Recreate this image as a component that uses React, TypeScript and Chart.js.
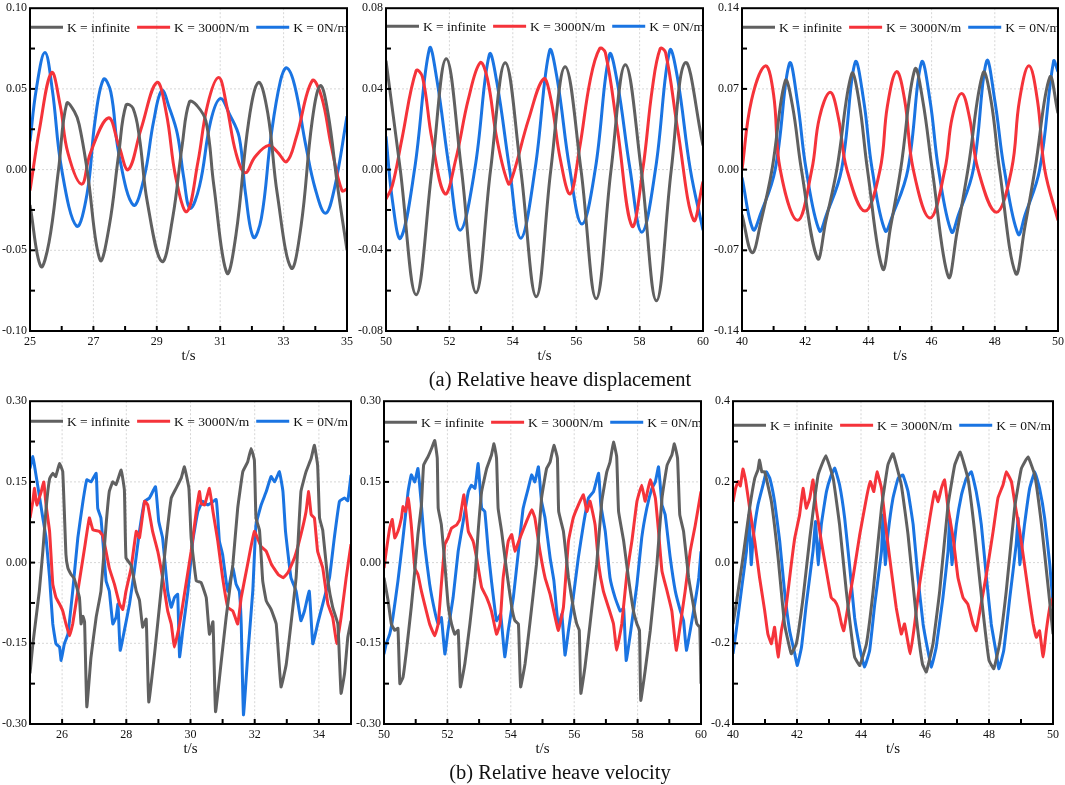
import React, { useEffect, useRef } from 'react';
import Chart from 'chart.js/auto';

// ---------- data: [t (s), value] ----------

const seriesNames = ['K = infinite', 'K = 3000N/m', 'K = 0N/m'];
const seriesColors = ['#606060', '#f5333a', '#1a74e2'];

// (a) relative heave displacement, t = 25..35
const dispA_inf = [[25,-0.022],[25.34,-0.060],[25.6,-0.045],[25.9,0.0],[26.16,0.041],[26.4,0.036],[26.55,0.028],[26.8,0.0],[27.21,-0.056],[27.5,-0.035],[27.8,0.010],[28.03,0.040],[28.25,0.038],[28.45,0.020],[28.7,-0.020],[29.16,-0.057],[29.5,-0.030],[29.8,0.015],[30.03,0.042],[30.25,0.040],[30.55,0.030],[30.8,-0.010],[31.21,-0.064],[31.5,-0.040],[31.9,0.030],[32.21,0.054],[32.5,0.035],[32.8,-0.015],[33.24,-0.061],[33.55,-0.035],[33.9,0.030],[34.16,0.052],[34.4,0.035],[34.7,-0.010],[35,-0.050]];
const dispA_3000 = [[25,-0.013],[25.3,0.025],[25.68,0.060],[25.95,0.040],[26.2,0.010],[26.63,-0.009],[26.9,0.010],[27.47,0.032],[27.8,0.015],[28.1,0.0],[28.5,0.025],[29.0,0.054],[29.3,0.035],[29.6,-0.005],[29.95,-0.026],[30.3,0.005],[30.6,0.040],[30.95,0.057],[31.2,0.040],[31.5,0.010],[31.79,-0.002],[32.1,0.008],[32.53,0.015],[32.8,0.011],[33.1,0.005],[33.4,0.020],[33.9,0.055],[34.2,0.045],[34.5,0.015],[34.84,-0.013],[35,-0.012]];
const dispA_0 = [[25,0.0175],[25.2,0.05],[25.47,0.0725],[25.7,0.050],[26.0,0.0],[26.47,-0.035],[26.8,-0.015],[27.05,0.030],[27.32,0.056],[27.55,0.048],[27.8,0.010],[28.26,-0.022],[28.6,-0.005],[28.9,0.030],[29.16,0.049],[29.4,0.038],[29.65,0.022],[29.85,-0.005],[30.05,-0.024],[30.35,-0.010],[30.7,0.030],[31.0,0.044],[31.3,0.034],[31.6,0.020],[31.8,-0.015],[32.05,-0.042],[32.3,-0.030],[32.6,0.020],[32.9,0.055],[33.1,0.063],[33.35,0.052],[33.7,0.015],[34.0,-0.012],[34.32,-0.027],[34.6,-0.012],[35,0.033]];

// t = 50..60
const dispB_inf = [[50,0.054],[50.45,0.0],[50.95,-0.062],[51.45,0.0],[51.9,0.055],[52.38,0.0],[52.84,-0.061],[53.3,0.0],[53.76,0.053],[54.25,0.0],[54.74,-0.063],[55.2,0.0],[55.65,0.051],[56.15,0.0],[56.63,-0.064],[57.1,0.0],[57.55,0.052],[58.05,0.0],[58.53,-0.065],[59.0,0.0],[59.44,0.053],[60,0.012]];
const dispB_3000 = [[50,-0.0146],[50.2,-0.008],[50.5,0.015],[50.95,0.049],[51.15,0.046],[51.45,0.015],[51.86,-0.012],[52.2,0.005],[52.6,0.035],[52.97,0.053],[53.2,0.045],[53.5,0.015],[53.86,-0.007],[54.0,-0.003],[54.5,0.025],[54.97,0.045],[55.2,0.035],[55.5,0.005],[55.81,-0.012],[56.1,0.010],[56.45,0.045],[56.74,0.060],[56.92,0.058],[57.3,0.020],[57.76,-0.028],[58.1,0.000],[58.4,0.040],[58.65,0.060],[58.82,0.058],[59.2,0.020],[59.7,-0.025],[60,-0.006]];
const dispB_0 = [[50,0.0165],[50.2,-0.015],[50.46,-0.034],[50.9,0.0],[51.37,0.060],[51.6,0.045],[52.0,0.0],[52.34,-0.030],[52.8,0.0],[53.26,0.057],[53.5,0.043],[53.9,0.0],[54.25,-0.034],[54.7,0.0],[55.16,0.059],[55.4,0.045],[55.8,0.0],[56.18,-0.027],[56.6,0.0],[57.05,0.057],[57.3,0.043],[57.7,0.0],[58.07,-0.031],[58.5,0.0],[58.95,0.059],[59.2,0.045],[59.6,0.0],[60,-0.030]];

// t = 40..50
const dispC_inf = [[40,-0.039],[40.32,-0.072],[40.6,-0.045],[40.95,0.0],[41.37,0.077],[41.6,0.055],[41.88,0.0],[42.39,-0.077],[42.65,-0.045],[43.0,0.0],[43.47,0.083],[43.7,0.06],[43.97,0.0],[44.45,-0.086],[44.7,-0.05],[45.02,0.0],[45.47,0.087],[45.72,0.06],[46.02,0.0],[46.53,-0.093],[46.8,-0.055],[47.15,0.0],[47.63,0.084],[47.88,0.06],[48.15,0.0],[48.66,-0.090],[48.95,-0.05],[49.27,0.0],[49.74,0.080],[50,0.049]];
const dispC_3000 = [[40,0.0],[40.3,0.06],[40.74,0.090],[41.0,0.065],[41.21,0.0],[41.76,-0.044],[42.21,0.0],[42.45,0.045],[42.79,0.067],[43.05,0.045],[43.32,0.0],[43.89,-0.036],[44.37,0.0],[44.6,0.055],[44.89,0.085],[45.15,0.06],[45.42,0.0],[45.95,-0.042],[46.42,0.0],[46.65,0.045],[46.95,0.066],[47.2,0.045],[47.47,0.0],[48.05,-0.037],[48.53,0.0],[48.78,0.06],[49.08,0.090],[49.35,0.06],[49.58,0.0],[50,-0.044]];
const dispC_0 = [[40,-0.007],[40.35,-0.052],[40.58,-0.039],[41.05,0.0],[41.5,0.092],[41.75,0.06],[42.03,0.0],[42.45,-0.053],[42.66,-0.040],[43.15,0.0],[43.58,0.093],[43.85,0.06],[44.12,0.0],[44.53,-0.053],[44.76,-0.040],[45.25,0.0],[45.68,0.093],[45.95,0.06],[46.22,0.0],[46.63,-0.054],[46.84,-0.040],[47.32,0.0],[47.74,0.094],[48.0,0.06],[48.3,0.0],[48.74,-0.056],[48.95,-0.040],[49.42,0.0],[49.86,0.094],[50,0.085]];

// (b) relative heave velocity, t = 25..35
const velA_inf = [[25.0,-0.206],[25.09,-0.151],[25.19,-0.102],[25.29,-0.053],[25.40,0.021],[25.5,0.10],[25.61,0.156],[25.71,0.166],[25.8,0.160],[25.92,0.184],[26.02,0.169],[26.12,0.015],[26.18,-0.010],[26.28,-0.022],[26.38,-0.030],[26.54,-0.065],[26.59,-0.114],[26.65,-0.100],[26.70,-0.110],[26.77,-0.268],[26.90,-0.176],[27.06,-0.102],[27.21,-0.053],[27.37,0.070],[27.47,0.132],[27.58,0.150],[27.68,0.145],[27.84,0.172],[27.94,0.135],[27.99,0.009],[28.15,-0.005],[28.31,-0.053],[28.41,-0.070],[28.51,-0.120],[28.62,-0.105],[28.70,-0.259],[28.88,-0.170],[29.03,-0.083],[29.24,0.040],[29.40,0.120],[29.55,0.138],[29.71,0.157],[29.81,0.178],[29.95,0.138],[30.02,0.046],[30.18,-0.034],[30.33,-0.037],[30.49,-0.065],[30.59,-0.133],[30.70,-0.110],[30.78,-0.277],[30.95,-0.188],[31.11,-0.102],[31.32,-0.003],[31.47,0.101],[31.63,0.169],[31.78,0.187],[31.89,0.212],[31.99,0.190],[32.04,0.083],[32.15,0.060],[32.25,-0.034],[32.36,-0.071],[32.51,-0.087],[32.67,-0.114],[32.82,-0.231],[32.98,-0.190],[33.13,-0.114],[33.29,-0.028],[33.44,0.132],[33.60,0.169],[33.76,0.194],[33.86,0.218],[33.96,0.181],[34.02,0.083],[34.12,0.060],[34.28,-0.034],[34.43,-0.083],[34.59,-0.114],[34.69,-0.243],[34.80,-0.206],[34.90,-0.139],[35.0,-0.108]];
const velA_3000 = [[25.0,0.083],[25.09,0.114],[25.14,0.138],[25.21,0.107],[25.35,0.132],[25.43,0.150],[25.50,0.107],[25.61,0.058],[25.71,-0.040],[25.81,-0.065],[25.92,-0.077],[26.02,-0.090],[26.12,-0.114],[26.23,-0.136],[26.33,-0.114],[26.49,-0.053],[26.70,0.027],[26.85,0.083],[26.96,0.061],[27.16,0.058],[27.27,0.050],[27.47,-0.010],[27.63,-0.040],[27.79,-0.077],[27.89,-0.087],[27.99,-0.053],[28.15,-0.010],[28.31,0.058],[28.41,0.046],[28.57,0.114],[28.67,0.107],[28.82,0.058],[28.98,0.021],[29.13,-0.028],[29.29,-0.090],[29.40,-0.114],[29.50,-0.157],[29.66,-0.114],[29.81,-0.059],[30.02,0.021],[30.18,0.095],[30.28,0.132],[30.33,0.110],[30.44,0.107],[30.59,0.138],[30.70,0.095],[30.85,0.040],[31.00,-0.028],[31.16,-0.083],[31.32,-0.090],[31.47,-0.114],[31.58,-0.065],[31.78,-0.003],[31.99,0.058],[32.20,0.030],[32.36,0.021],[32.52,-0.003],[32.73,-0.022],[32.89,-0.028],[33.04,-0.018],[33.24,0.009],[33.44,0.052],[33.60,0.095],[33.68,0.132],[33.76,0.089],[33.86,0.083],[33.96,0.021],[34.12,-0.010],[34.28,-0.077],[34.43,-0.102],[34.56,-0.151],[34.69,-0.102],[34.85,-0.028],[35.0,0.034]];
const velA_0 = [[25.0,0.175],[25.09,0.197],[25.17,0.169],[25.27,0.132],[25.40,0.083],[25.50,0.046],[25.61,-0.028],[25.71,-0.114],[25.81,-0.151],[25.92,-0.157],[25.97,-0.182],[26.07,-0.151],[26.18,-0.133],[26.33,-0.053],[26.49,0.046],[26.65,0.114],[26.77,0.154],[26.90,0.150],[27.06,0.166],[27.11,0.101],[27.21,0.083],[27.37,-0.034],[27.47,-0.053],[27.58,-0.114],[27.68,-0.102],[27.74,-0.077],[27.81,-0.163],[27.94,-0.126],[28.10,-0.077],[28.25,-0.016],[28.41,0.058],[28.57,0.114],[28.72,0.120],[28.91,0.141],[29.01,0.077],[29.13,0.046],[29.29,-0.053],[29.40,-0.083],[29.50,-0.065],[29.60,-0.059],[29.66,-0.175],[29.76,-0.126],[29.92,-0.053],[30.07,0.040],[30.23,0.095],[30.38,0.114],[30.54,0.107],[30.80,0.117],[30.90,0.040],[31.00,0.015],[31.16,-0.053],[31.32,-0.010],[31.42,-0.040],[31.52,-0.053],[31.58,-0.114],[31.65,-0.283],[31.78,-0.175],[31.94,-0.053],[32.04,0.070],[32.20,0.107],[32.36,0.132],[32.51,0.160],[32.62,0.150],[32.77,0.169],[32.88,0.132],[32.96,0.058],[33.13,-0.028],[33.29,-0.053],[33.44,-0.108],[33.55,-0.090],[33.70,-0.053],[33.81,-0.151],[33.96,-0.114],[34.12,-0.077],[34.33,-0.028],[34.48,0.046],[34.64,0.114],[34.80,0.120],[34.90,0.115],[35.0,0.163]];

// t = 50..60
const velB_inf = [[50.0,-0.028],[50.13,-0.071],[50.23,-0.114],[50.34,-0.126],[50.44,-0.122],[50.50,-0.225],[50.60,-0.213],[50.71,-0.163],[50.86,-0.083],[50.97,-0.016],[51.07,0.052],[51.18,0.107],[51.25,0.181],[51.39,0.197],[51.50,0.212],[51.60,0.227],[51.68,0.194],[51.71,0.101],[51.81,0.070],[51.92,-0.003],[52.02,-0.077],[52.13,-0.114],[52.23,-0.133],[52.34,-0.126],[52.41,-0.231],[52.55,-0.188],[52.71,-0.114],[52.87,-0.028],[52.97,0.058],[53.08,0.132],[53.24,0.175],[53.39,0.200],[53.47,0.221],[53.55,0.194],[53.60,0.101],[53.71,0.058],[53.87,-0.016],[54.03,-0.083],[54.13,-0.108],[54.24,-0.114],[54.31,-0.231],[54.45,-0.188],[54.60,-0.114],[54.81,-0.003],[54.97,0.120],[55.13,0.175],[55.24,0.187],[55.36,0.218],[55.47,0.194],[55.51,0.095],[55.66,0.058],[55.82,-0.028],[55.97,-0.083],[56.08,-0.114],[56.16,-0.126],[56.21,-0.243],[56.34,-0.194],[56.50,-0.114],[56.71,-0.003],[56.87,0.114],[57.03,0.169],[57.13,0.187],[57.24,0.224],[57.34,0.197],[57.40,0.095],[57.56,0.040],[57.71,-0.028],[57.87,-0.090],[57.98,-0.114],[58.06,-0.126],[58.10,-0.256],[58.24,-0.200],[58.40,-0.126],[58.61,-0.003],[58.77,0.120],[58.93,0.181],[59.08,0.200],[59.16,0.221],[59.26,0.194],[59.33,0.089],[59.45,0.058],[59.61,-0.028],[59.77,-0.083],[59.87,-0.114],[59.96,-0.120],[60.0,-0.225]];
const velB_3000 = [[50.0,-0.010],[50.07,0.021],[50.18,0.064],[50.26,0.080],[50.34,0.046],[50.44,0.058],[50.55,0.083],[50.60,0.104],[50.68,0.095],[50.76,0.120],[50.86,0.070],[50.97,-0.010],[51.07,-0.022],[51.18,-0.053],[51.28,-0.077],[51.44,-0.114],[51.60,-0.136],[51.71,-0.114],[51.81,-0.040],[51.92,0.034],[52.02,0.046],[52.13,0.064],[52.29,0.070],[52.39,0.080],[52.52,0.126],[52.66,0.058],[52.81,0.040],[52.92,0.009],[53.08,-0.046],[53.24,-0.065],[53.39,-0.090],[53.55,-0.133],[53.66,-0.114],[53.76,-0.028],[53.92,0.040],[54.03,0.052],[54.13,0.021],[54.29,0.046],[54.50,0.077],[54.66,0.098],[54.76,0.083],[54.92,0.021],[55.08,-0.028],[55.24,-0.059],[55.40,-0.102],[55.50,-0.126],[55.66,-0.083],[55.82,0.040],[55.97,0.083],[56.13,0.107],[56.29,0.126],[56.40,0.095],[56.50,0.114],[56.66,0.070],[56.77,-0.003],[56.92,-0.053],[57.08,-0.083],[57.24,-0.114],[57.34,-0.163],[57.50,-0.114],[57.66,-0.022],[57.82,0.040],[57.98,0.114],[58.13,0.144],[58.24,0.114],[58.40,0.154],[58.56,0.120],[58.66,0.058],[58.77,-0.016],[58.93,-0.053],[59.08,-0.090],[59.22,-0.163],[59.35,-0.114],[59.50,-0.053],[59.66,0.021],[59.82,0.070],[60.0,0.132]];
const velB_0 = [[50.0,-0.170],[50.07,-0.151],[50.18,-0.133],[50.28,-0.102],[50.44,-0.034],[50.60,0.046],[50.76,0.132],[50.86,0.163],[50.97,0.150],[51.07,0.175],[51.18,0.107],[51.28,0.034],[51.44,-0.040],[51.60,-0.090],[51.71,-0.114],[51.81,-0.102],[51.92,-0.170],[52.02,-0.126],[52.18,-0.065],[52.34,0.021],[52.50,0.077],[52.66,0.132],[52.76,0.144],[52.87,0.138],[52.97,0.184],[53.08,0.101],[53.18,0.095],[53.29,0.021],[53.39,-0.034],[53.55,-0.108],[53.68,-0.096],[53.81,-0.175],[53.92,-0.126],[54.08,-0.065],[54.24,0.021],[54.39,0.101],[54.55,0.138],[54.66,0.163],[54.76,0.150],[54.87,0.178],[54.97,0.114],[55.08,0.083],[55.24,0.009],[55.36,-0.034],[55.50,-0.120],[55.61,-0.096],[55.71,-0.172],[55.82,-0.126],[55.97,-0.065],[56.13,0.009],[56.29,0.070],[56.45,0.120],[56.61,0.132],[56.77,0.166],[56.84,0.107],[56.98,0.058],[57.13,-0.028],[57.29,-0.065],[57.45,-0.090],[57.56,-0.085],[57.64,-0.182],[57.77,-0.133],[57.98,-0.040],[58.13,0.046],[58.29,0.101],[58.45,0.138],[58.56,0.150],[58.66,0.178],[58.77,0.107],[58.87,0.089],[59.03,0.009],[59.19,-0.053],[59.35,-0.090],[59.45,-0.108],[59.54,-0.163],[59.66,-0.126],[59.82,-0.071],[59.93,-0.028],[60.0,0.021]];

// t = 40..50
const velC_inf = [[40.0,-0.152],[40.10,-0.103],[40.31,0.012],[40.52,0.135],[40.68,0.209],[40.78,0.230],[40.83,0.254],[40.90,0.225],[40.99,0.225],[41.20,0.151],[41.41,0.012],[41.61,-0.152],[41.82,-0.226],[41.98,-0.201],[42.19,-0.087],[42.40,0.061],[42.66,0.217],[42.90,0.265],[43.13,0.209],[43.33,0.094],[43.54,-0.070],[43.80,-0.234],[43.96,-0.255],[44.17,-0.201],[44.38,-0.070],[44.64,0.135],[44.84,0.242],[45.0,0.270],[45.26,0.192],[45.47,0.069],[45.73,-0.136],[45.92,-0.251],[46.04,-0.271],[46.25,-0.201],[46.46,-0.070],[46.72,0.143],[46.93,0.242],[47.10,0.274],[47.34,0.209],[47.55,0.078],[47.81,-0.119],[48.0,-0.242],[48.15,-0.263],[48.33,-0.201],[48.54,-0.070],[48.80,0.135],[49.01,0.233],[49.22,0.262],[49.43,0.217],[49.64,0.094],[49.84,-0.054],[50.0,-0.177]];
const velC_3000 = [[40.0,0.151],[40.08,0.184],[40.16,0.201],[40.23,0.190],[40.31,0.232],[40.40,0.201],[40.52,0.135],[40.68,0.053],[40.83,-0.037],[40.99,-0.119],[41.09,-0.177],[41.20,-0.201],[41.30,-0.160],[41.41,-0.234],[41.51,-0.170],[41.67,-0.103],[41.82,-0.005],[41.93,0.061],[42.08,0.118],[42.19,0.184],[42.29,0.135],[42.40,0.160],[42.50,0.205],[42.60,0.135],[42.76,0.053],[42.92,-0.021],[43.07,-0.087],[43.18,-0.095],[43.28,-0.111],[43.39,-0.152],[43.46,-0.169],[43.59,-0.110],[43.75,-0.037],[43.96,0.069],[44.17,0.160],[44.29,0.201],[44.40,0.176],[44.50,0.225],[44.64,0.184],[44.79,0.078],[44.95,-0.021],[45.10,-0.111],[45.26,-0.177],[45.36,-0.152],[45.54,-0.226],[45.68,-0.150],[45.83,-0.054],[45.99,0.028],[46.15,0.110],[46.30,0.176],[46.41,0.151],[46.51,0.184],[46.61,0.205],[46.72,0.135],[46.88,0.061],[47.03,-0.037],[47.19,-0.087],[47.34,-0.103],[47.50,-0.152],[47.60,-0.169],[47.76,-0.100],[47.92,-0.029],[48.13,0.078],[48.28,0.160],[48.44,0.193],[48.54,0.225],[48.70,0.201],[48.80,0.151],[48.96,0.078],[49.11,-0.005],[49.27,-0.095],[49.38,-0.152],[49.48,-0.185],[49.58,-0.169],[49.69,-0.234],[49.79,-0.169],[49.90,-0.111],[50.0,-0.087]];
const velC_0 = [[40.0,-0.226],[40.10,-0.169],[40.26,-0.070],[40.42,0.028],[40.50,0.118],[40.57,-0.005],[40.63,0.061],[40.78,0.143],[40.94,0.193],[41.04,0.225],[41.15,0.209],[41.30,0.151],[41.46,0.053],[41.61,-0.070],[41.77,-0.169],[41.93,-0.226],[42.01,-0.255],[42.14,-0.210],[42.29,-0.103],[42.50,0.028],[42.58,0.102],[42.66,-0.005],[42.76,0.094],[42.92,0.176],[43.07,0.217],[43.18,0.234],[43.33,0.193],[43.49,0.110],[43.65,-0.013],[43.80,-0.136],[43.96,-0.210],[44.11,-0.259],[44.27,-0.218],[44.43,-0.103],[44.64,0.028],[44.69,0.118],[44.76,-0.005],[44.84,0.069],[45.0,0.160],[45.16,0.209],[45.31,0.217],[45.47,0.176],[45.63,0.094],[45.78,-0.037],[45.94,-0.152],[46.09,-0.218],[46.20,-0.259],[46.35,-0.210],[46.56,-0.087],[46.72,0.028],[46.77,0.110],[46.84,-0.005],[46.98,0.094],[47.14,0.168],[47.29,0.209],[47.45,0.225],[47.60,0.176],[47.76,0.094],[47.92,-0.037],[48.07,-0.152],[48.23,-0.226],[48.31,-0.263],[48.46,-0.218],[48.65,-0.087],[48.85,0.045],[48.91,0.110],[48.96,-0.005],[49.11,0.094],[49.27,0.184],[49.43,0.225],[49.58,0.184],[49.74,0.110],[49.90,-0.005],[50.0,-0.103]];

// ---------- axis ticks ----------
const xTicks25odd = [25, 27, 29, 31, 33, 35];
const xMinor25even = [26, 28, 30, 32, 34];
const xTicks25even = [26, 28, 30, 32, 34];
const xMinor25odd = [27, 29, 31, 33];
const xTicks50 = [50, 52, 54, 56, 58, 60];
const xMinor50 = [51, 53, 55, 57, 59];
const xTicks40 = [40, 42, 44, 46, 48, 50];
const xMinor40 = [41, 43, 45, 47, 49];

const yTicksDispA = [-0.1, -0.05, 0, 0.05, 0.1];
const yMinorDispA = [-0.075, -0.025, 0.025, 0.075];
const yTicksDispB = [-0.08, -0.04, 0, 0.04, 0.08];
const yMinorDispB = [-0.06, -0.02, 0.02, 0.06];
const yTicksDispC = [-0.14, -0.07, 0, 0.07, 0.14];
const yMinorDispC = [-0.105, -0.035, 0.035, 0.105];
const yTicksVel = [-0.3, -0.15, 0, 0.15, 0.3];
const yMinorVel = [-0.225, -0.075, 0.075, 0.225];
const yTicksVelC = [-0.4, -0.2, 0, 0.2, 0.4];
const yMinorVelC = [-0.3, -0.1, 0.1, 0.3];

const SERIF = "'Liberation Serif', 'Times New Roman', serif";

const PAD_L = 36;
const PAD_T = 8;
const PAD_R = 10;
const PAD_B = 46;

type Pt = number[];

interface PanelCfg {
  left: number; top: number; right: number; bottom: number;
  xMin: number; xMax: number;
  xTicks: number[]; xMinor: number[];
  yTicks: number[]; yMinor: number[];
  dec: number;
  series: Pt[][];
  tension: number;
  legendY: number;
}

const panels: PanelCfg[] = [
  { left: 30, top: 6, right: 347, bottom: 331, xMin: 25, xMax: 35, xTicks: xTicks25odd, xMinor: xMinor25even, yTicks: yTicksDispA, yMinor: yMinorDispA, dec: 2, series: [dispA_inf, dispA_3000, dispA_0], tension: 0.4, legendY: 19 },
  { left: 386, top: 6, right: 703, bottom: 331, xMin: 50, xMax: 60, xTicks: xTicks50, xMinor: xMinor50, yTicks: yTicksDispB, yMinor: yMinorDispB, dec: 2, series: [dispB_inf, dispB_3000, dispB_0], tension: 0.4, legendY: 18 },
  { left: 742, top: 6, right: 1058, bottom: 331, xMin: 40, xMax: 50, xTicks: xTicks40, xMinor: xMinor40, yTicks: yTicksDispC, yMinor: yMinorDispC, dec: 2, series: [dispC_inf, dispC_3000, dispC_0], tension: 0.4, legendY: 19 },
  { left: 30, top: 399, right: 351, bottom: 724, xMin: 25, xMax: 35, xTicks: xTicks25even, xMinor: xMinor25odd, yTicks: yTicksVel, yMinor: yMinorVel, dec: 2, series: [velA_inf, velA_3000, velA_0], tension: 0.1, legendY: 20 },
  { left: 384, top: 399, right: 701, bottom: 724, xMin: 50, xMax: 60, xTicks: xTicks50, xMinor: xMinor50, yTicks: yTicksVel, yMinor: yMinorVel, dec: 2, series: [velB_inf, velB_3000, velB_0], tension: 0.1, legendY: 21 },
  { left: 733, top: 399, right: 1053, bottom: 724, xMin: 40, xMax: 50, xTicks: xTicks40, xMinor: xMinor40, yTicks: yTicksVelC, yMinor: yMinorVelC, dec: 1, series: [velC_inf, velC_3000, velC_0], tension: 0.1, legendY: 24 },
];

// grid lines, black frame, inward ticks and the in-plot legend
const framePlugin = {
  id: 'frame',
  beforeDatasetsDraw(chart: any, _args: any, opts: any) {
    const { ctx, chartArea: a, scales } = chart;
    ctx.save();
    ctx.strokeStyle = '#d6d6d6';
    ctx.lineWidth = 1;
    ctx.setLineDash([2, 2]);
    for (const v of opts.xTicks) {
      const px = scales.x.getPixelForValue(v);
      if (px <= a.left + 1 || px >= a.right - 1) continue;
      ctx.beginPath(); ctx.moveTo(px, a.top); ctx.lineTo(px, a.bottom); ctx.stroke();
    }
    for (const v of opts.yTicks) {
      const py = scales.y.getPixelForValue(v);
      if (py <= a.top + 1 || py >= a.bottom - 1) continue;
      ctx.beginPath(); ctx.moveTo(a.left, py); ctx.lineTo(a.right, py); ctx.stroke();
    }
    ctx.restore();
  },
  afterDatasetsDraw(chart: any, _args: any, opts: any) {
    const { ctx, chartArea: a, scales } = chart;
    ctx.save();
    // legend
    ctx.beginPath();
    ctx.rect(a.left, a.top, a.right - a.left, a.bottom - a.top);
    ctx.clip();
    ctx.font = `13.5px ${SERIF}`;
    ctx.textBaseline = 'middle';
    const ly = a.top + opts.legendY;
    let lx = a.left;
    chart.data.datasets.forEach((ds: any) => {
      ctx.strokeStyle = ds.borderColor;
      ctx.lineWidth = 3;
      ctx.beginPath(); ctx.moveTo(lx, ly); ctx.lineTo(lx + 33, ly); ctx.stroke();
      lx += 37;
      ctx.fillStyle = '#111';
      ctx.fillText(ds.label, lx, ly + 1);
      lx += ctx.measureText(ds.label).width + 7;
    });
    ctx.restore();

    ctx.save();
    ctx.strokeStyle = '#000';
    ctx.lineWidth = 2;
    ctx.strokeRect(a.left, a.top, a.right - a.left, a.bottom - a.top);
    const tick = (vals: number[], len: number) => {
      for (const v of vals) {
        const px = scales.x.getPixelForValue(v);
        if (px <= a.left + 1 || px >= a.right - 1) continue;
        ctx.beginPath(); ctx.moveTo(px, a.bottom); ctx.lineTo(px, a.bottom - len); ctx.stroke();
      }
    };
    const ytick = (vals: number[], len: number) => {
      for (const v of vals) {
        const py = scales.y.getPixelForValue(v);
        if (py <= a.top + 1 || py >= a.bottom - 1) continue;
        ctx.beginPath(); ctx.moveTo(a.left, py); ctx.lineTo(a.left + len, py); ctx.stroke();
      }
    };
    tick(opts.xTicks, 5);
    tick(opts.xMinor, 5);
    ytick(opts.yTicks, 5);
    ytick(opts.yMinor, 5);
    ctx.restore();
  },
};

function Panel({ cfg }: { cfg: PanelCfg }) {
  const canvasRef = useRef<HTMLCanvasElement | null>(null);
  const w = cfg.right - cfg.left + PAD_L + PAD_R;
  const h = cfg.bottom - cfg.top + PAD_T + PAD_B;

  useEffect(() => {
    if (!canvasRef.current) return;
    const chart = new Chart(canvasRef.current, {
      type: 'line',
      data: {
        datasets: cfg.series.map((pts, i) => ({
          label: seriesNames[i],
          data: pts.map(([x, y]) => ({ x, y })),
          borderColor: seriesColors[i],
          backgroundColor: seriesColors[i],
          borderWidth: 3,
          pointRadius: 0,
          tension: cfg.tension,
          fill: false,
        })),
      },
      options: {
        animation: false,
        responsive: false,
        events: [],
        layout: { padding: { left: 0, top: PAD_T, right: PAD_R, bottom: 0 } },
        plugins: {
          legend: { display: false },
          tooltip: { enabled: false },
          frame: {
            xTicks: cfg.xTicks, xMinor: cfg.xMinor,
            yTicks: cfg.yTicks, yMinor: cfg.yMinor,
            legendY: cfg.legendY,
          },
        } as any,
        scales: {
          x: {
            type: 'linear',
            min: cfg.xMin,
            max: cfg.xMax,
            grid: { display: false, drawTicks: false },
            border: { display: false },
            afterBuildTicks: (s: any) => { s.ticks = cfg.xTicks.map((v) => ({ value: v })); },
            afterFit: (s: any) => { s.height = PAD_B; },
            ticks: {
              padding: 4,
              maxRotation: 0,
              autoSkip: false,
              color: '#111',
              font: { family: SERIF, size: 12 },
              callback: (v: any) => String(v),
            },
            title: {
              display: true,
              text: 't/s',
              color: '#111',
              font: { family: SERIF, size: 15 },
              padding: { top: 0, bottom: 12 },
            },
          },
          y: {
            type: 'linear',
            min: cfg.yTicks[0],
            max: cfg.yTicks[cfg.yTicks.length - 1],
            grid: { display: false, drawTicks: false },
            border: { display: false },
            afterBuildTicks: (s: any) => { s.ticks = cfg.yTicks.map((v) => ({ value: v })); },
            afterFit: (s: any) => { s.width = PAD_L; },
            ticks: {
              padding: 3,
              autoSkip: false,
              color: '#111',
              font: { family: SERIF, size: 12 },
              callback: (v: any) => Number(v).toFixed(cfg.dec),
            },
          },
        },
      },
      plugins: [framePlugin],
    });
    return () => chart.destroy();
  }, [cfg]);

  return (
    <canvas
      ref={canvasRef}
      width={w}
      height={h}
      style={{ position: 'absolute', left: cfg.left - PAD_L, top: cfg.top - PAD_T, width: w, height: h }}
    />
  );
}

export default function App() {
  return (
    <div style={{ position: 'absolute', left: 0, top: 0, width: 1065, height: 785, background: '#fff', overflow: 'hidden' }}>
      {panels.map((p, i) => <Panel key={i} cfg={p} />)}
      <div style={{ position: 'absolute', left: 0, width: 1120, top: 367, textAlign: 'center', font: `20.5px ${SERIF}`, lineHeight: '24px', color: '#111' }}>
        (a) Relative heave displacement
      </div>
      <div style={{ position: 'absolute', left: 0, width: 1120, top: 760, textAlign: 'center', font: `20.5px ${SERIF}`, lineHeight: '24px', color: '#111' }}>
        (b) Relative heave velocity
      </div>
    </div>
  );
}
